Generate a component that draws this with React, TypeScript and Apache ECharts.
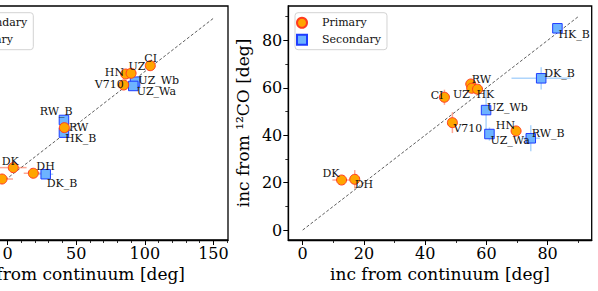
import React, { useEffect, useRef } from 'react';
import * as echarts from 'echarts';

// ---------- Left panel data ----------
const leftPrimaryNames = ['HK', 'DK', 'DH', 'RW', 'HN', 'UZ', 'CI', 'V710'];
const leftPrimaryX = [-4.0, 4.2, 18.8, 41.4, 86.1, 90.0, 104.0, 84.6];
const leftPrimaryY = [-0.8, 9.9, 4.6, 47.4, 97.7, 98.4, 105.5, 87.4];
const leftPrimaryXErr = [8, 9.7, 7, 1.5, 2, 2, 2, 2];
const leftPrimaryYErr = [1, 1, 1, 1.5, 2, 2, 2, 2];

const leftSecondaryNames = ['DK_B', 'RW_B', 'HK_B', 'UZ_Wb', 'UZ_Wa'];
const leftSecondaryX = [27.8, 41.1, 41.1, 92.9, 91.6];
const leftSecondaryY = [3.7, 54.6, 42.7, 90.5, 86.5];
const leftSecondaryXErr = [5.5, 1.5, 1.5, 2, 2];
const leftSecondaryYErr = [1, 1.5, 1.5, 2, 2];

// ---------- Right panel data ----------
const rightPrimaryNames = ['DK', 'DH', 'CI', 'V710', 'RW', 'UZ', 'HK', 'HN'];
const rightPrimaryX = [12.7, 17.0, 46.3, 48.9, 54.9, 55.2, 57.1, 69.7];
const rightPrimaryY = [21.1, 21.4, 56.0, 45.3, 61.6, 59.8, 59.4, 41.8];
const rightPrimaryXErr = [3, 1, 0.5, 0.5, 1, 1, 1, 1];
const rightPrimaryYErr = [1.5, 3.9, 3.2, 4.4, 1, 1, 1, 1.5];

const rightSecondaryNames = ['HK_B', 'DK_B', 'UZ_Wb', 'UZ_Wa', 'RW_B'];
const rightSecondaryX = [83.2, 77.9, 59.9, 61.0, 74.5];
const rightSecondaryY = [85.1, 64.0, 50.6, 40.5, 38.7];
const rightSecondaryXErr = [1, 9.7, 1, 1, 3];
const rightSecondaryYErr = [1, 4.7, 8.4, 2.8, 5.5];

// one-to-one reference lines
const leftOneToOne = [-62, 150];
const rightOneToOne = [0, 90];

// ticks
const leftXMajor = [-50, 0, 50, 100, 150];
const leftXMinor = [-60, -40, -30, -20, -10, 10, 20, 30, 40, 60, 70, 80, 90, 110, 120, 130, 140, 160];
const leftYMajor = [-50, 0, 50, 100, 150];
const leftYMinor = [-40, -30, -20, -10, 10, 20, 30, 40, 60, 70, 80, 90, 110, 120, 130, 140, 160];
const rightMajor = [0, 20, 40, 60, 80];
const rightMinor = [10, 30, 50, 70, 90];

// ---------- label placement (layout only) ----------
type Place = [number, number, 'left' | 'right'];
const leftLabelPlace: Record<string, Place> = {
  HK: [-7, 0, 'right'],
  DK: [-11.6, -6, 'left'],
  DH: [3, -6.7, 'left'],
  RW: [4.7, 0, 'left'],
  HN: [-1.7, -1.7, 'right'],
  UZ: [-2.7, -6.7, 'left'],
  CI: [-6, -7, 'left'],
  V710: [0, -0.7, 'right'],
  DK_B: [1, 9, 'left'],
  RW_B: [8.7, -8, 'right'],
  HK_B: [1, 6.3, 'left'],
  UZ_Wb: [3.3, -0.7, 'left'],
  UZ_Wa: [3.4, 6, 'left'],
};
const rightLabelPlace: Record<string, Place> = {
  DK: [-2, -7, 'right'],
  DH: [0, 5, 'left'],
  CI: [-1, -2, 'right'],
  V710: [1, 6, 'left'],
  RW: [1, -5, 'left'],
  UZ: [-1.7, 6, 'right'],
  HK: [-1, 5.5, 'left'],
  HN: [-1, -5, 'right'],
  HK_B: [1, 6, 'left'],
  DK_B: [3, -5, 'left'],
  UZ_Wb: [1, -3, 'left'],
  UZ_Wa: [1, 6, 'left'],
  RW_B: [1, -5, 'left'],
};

const FONT = 'DejaVu Serif';
const PRIMARY_FILL = '#ffa500';
const PRIMARY_EDGE = '#ff3c1e';
const SECONDARY_FILL = '#6db3ff';
const SECONDARY_EDGE = '#1f3dff';
const PRIMARY_ERR = 'rgba(255,95,60,0.55)';
const SECONDARY_ERR = 'rgba(120,185,250,0.6)';

const errRender = (color: string) => (params: any, api: any) => {
  const x = api.value(0);
  const y = api.value(1);
  const xe = api.value(2);
  const ye = api.value(3);
  const style = { stroke: color, lineWidth: 1.5 };
  const l = api.coord([x - xe, y]);
  const r = api.coord([x + xe, y]);
  const b = api.coord([x, y - ye]);
  const t = api.coord([x, y + ye]);
  return {
    type: 'group',
    children: [
      { type: 'line', shape: { x1: l[0], y1: l[1], x2: r[0], y2: r[1] }, style },
      { type: 'line', shape: { x1: b[0], y1: b[1], x2: t[0], y2: t[1] }, style },
    ],
  };
};

function errSeries(
  xs: number[], ys: number[], xe: number[], ye: number[], color: string, axisIdx: number
) {
  return {
    type: 'custom',
    name: 'err',
    xAxisIndex: axisIdx,
    yAxisIndex: axisIdx,
    clip: true,
    silent: true,
    z: 2,
    encode: { x: 0, y: 1 },
    renderItem: errRender(color),
    data: xs.map((x, i) => [x, ys[i], xe[i], ye[i]]),
  };
}

function pointSeries(
  seriesName: string,
  names: string[], xs: number[], ys: number[],
  place: Record<string, Place>, axisIdx: number, primary: boolean
) {
  return {
    type: 'scatter',
    name: seriesName,
    xAxisIndex: axisIdx,
    yAxisIndex: axisIdx,
    symbol: primary ? 'circle' : 'rect',
    symbolSize: primary ? 10 : 9.5,
    z: primary ? 5 : 4,
    itemStyle: {
      color: primary ? PRIMARY_FILL : SECONDARY_FILL,
      borderColor: primary ? PRIMARY_EDGE : SECONDARY_EDGE,
      borderWidth: 1,
      opacity: 1,
    },
    label: {
      show: true,
      position: 'inside',
      formatter: '{b}',
      color: '#111',
      fontSize: 11,
      fontFamily: FONT,
      verticalAlign: 'middle',
    },
    emphasis: { disabled: true },
    data: names.map((n, i) => {
      const p = place[n] || [2, 0, 'left'];
      return {
        name: n,
        value: [xs[i], ys[i]],
        label: { align: p[2], offset: [p[0], p[1]] },
      };
    }),
  };
}

function lineSeries(range: number[], axisIdx: number) {
  return {
    type: 'line',
    xAxisIndex: axisIdx,
    yAxisIndex: axisIdx,
    symbol: 'none',
    silent: true,
    clip: true,
    z: 1,
    lineStyle: { color: '#333', width: 0.8, type: [3, 2] },
    data: [[range[0], range[0]], [range[1], range[1]]],
  };
}

const tickLabelStyle = { color: '#000', fontSize: 16, fontFamily: FONT };
const nameStyle = { color: '#000', fontSize: 17, fontFamily: FONT };

function majorAxis(
  dir: 'x' | 'y', gridIndex: number, min: number, max: number, ticks: number[], name: string, showLabels = true
) {
  return {
    type: 'value',
    gridIndex,
    position: dir === 'x' ? 'bottom' : 'left',
    min,
    max,
    name,
    nameLocation: 'middle',
    nameGap: dir === 'x' ? 25 : 33,
    nameTextStyle: nameStyle,
    splitLine: { show: false },
    axisLine: { show: true, onZero: false, lineStyle: { color: '#000', width: 1.3 } },
    axisTick: { show: true, inside: false, length: 5, lineStyle: { color: '#000', width: 1 }, customValues: ticks },
    axisLabel: { show: showLabels, margin: dir === 'x' ? 5 : 6, customValues: ticks, ...tickLabelStyle },
  };
}

function minorAxis(dir: 'x' | 'y', gridIndex: number, min: number, max: number, ticks: number[]) {
  return {
    type: 'value',
    gridIndex,
    position: dir === 'x' ? 'bottom' : 'left',
    min,
    max,
    splitLine: { show: false },
    axisLine: { show: false, onZero: false },
    axisTick: { show: true, inside: false, length: 3, lineStyle: { color: '#000', width: 0.8 }, customValues: ticks },
    axisLabel: { show: false },
  };
}

const LEFT_RANGE_X: [number, number] = [-62.3, 160.6];
const LEFT_RANGE_Y: [number, number] = [-58, 161.5];
const RIGHT_RANGE_X: [number, number] = [-4.7, 94.4];
const RIGHT_RANGE_Y: [number, number] = [-4.2, 94.5];

export default function App() {
  const ref = useRef<HTMLDivElement>(null);
  useEffect(() => {
    if (!ref.current) return;
    const chart = echarts.init(ref.current, undefined, { renderer: 'svg' });
    const legendBase = {
      orient: 'vertical',
      top: 12.7,
      itemWidth: 30,
      itemHeight: 10,
      itemGap: 3,
      padding: [3, 6, 3, 1],
      borderColor: '#d3d3d3',
      borderWidth: 1,
      borderRadius: 3,
      backgroundColor: 'rgba(255,255,255,0.85)',
      textStyle: { color: '#111', fontSize: 11, fontFamily: FONT, lineHeight: 14 },
      selectedMode: false,
    };
    const primaryIcon = { name: 'Primary', icon: 'circle' };
    const secondaryIcon = { name: 'Secondary', icon: 'path://M0,0L10,0L10,10L0,10Z' };
    const gridBase = {
      top: 6,
      height: 234,
      show: true,
      borderColor: '#000',
      borderWidth: 1.3,
      containLabel: false,
      outerBoundsMode: 'none',
    };
    chart.setOption({
      animation: false,
      textStyle: { fontFamily: FONT },
      grid: [
        { ...gridBase, left: -78, width: 306 },
        { ...gridBase, left: 288.3, width: 303.4 },
      ],
      legend: [
        { ...legendBase, right: 564.7, data: [secondaryIcon, primaryIcon] },
        { ...legendBase, left: 295, data: [primaryIcon, secondaryIcon] },
      ],
      xAxis: [
        majorAxis('x', 0, LEFT_RANGE_X[0], LEFT_RANGE_X[1], leftXMajor, 'inc from continuum [deg]'),
        minorAxis('x', 0, LEFT_RANGE_X[0], LEFT_RANGE_X[1], leftXMinor),
        majorAxis('x', 1, RIGHT_RANGE_X[0], RIGHT_RANGE_X[1], rightMajor, 'inc from continuum [deg]'),
        minorAxis('x', 1, RIGHT_RANGE_X[0], RIGHT_RANGE_X[1], rightMinor),
      ],
      yAxis: [
        majorAxis('y', 0, LEFT_RANGE_Y[0], LEFT_RANGE_Y[1], leftYMajor, '', false),
        minorAxis('y', 0, LEFT_RANGE_Y[0], LEFT_RANGE_Y[1], leftYMinor),
        majorAxis('y', 1, RIGHT_RANGE_Y[0], RIGHT_RANGE_Y[1], rightMajor, 'inc from ¹²CO [deg]'),
        minorAxis('y', 1, RIGHT_RANGE_Y[0], RIGHT_RANGE_Y[1], rightMinor),
      ],
      series: [
        lineSeries(leftOneToOne, 0),
        errSeries(leftPrimaryX, leftPrimaryY, leftPrimaryXErr, leftPrimaryYErr, PRIMARY_ERR, 0),
        errSeries(leftSecondaryX, leftSecondaryY, leftSecondaryXErr, leftSecondaryYErr, SECONDARY_ERR, 0),
        pointSeries('Secondary', leftSecondaryNames, leftSecondaryX, leftSecondaryY, leftLabelPlace, 0, false),
        pointSeries('Primary', leftPrimaryNames, leftPrimaryX, leftPrimaryY, leftLabelPlace, 0, true),

        lineSeries(rightOneToOne, 2),
        errSeries(rightPrimaryX, rightPrimaryY, rightPrimaryXErr, rightPrimaryYErr, PRIMARY_ERR, 2),
        errSeries(rightSecondaryX, rightSecondaryY, rightSecondaryXErr, rightSecondaryYErr, SECONDARY_ERR, 2),
        pointSeries('Secondary', rightSecondaryNames, rightSecondaryX, rightSecondaryY, rightLabelPlace, 2, false),
        pointSeries('Primary', rightPrimaryNames, rightPrimaryX, rightPrimaryY, rightLabelPlace, 2, true),
      ],
    });
    return () => chart.dispose();
  }, []);
  return (
    <div
      ref={ref}
      style={{ position: 'fixed', left: 0, top: 0, width: 598, height: 291, background: '#fff' }}
    />
  );
}
